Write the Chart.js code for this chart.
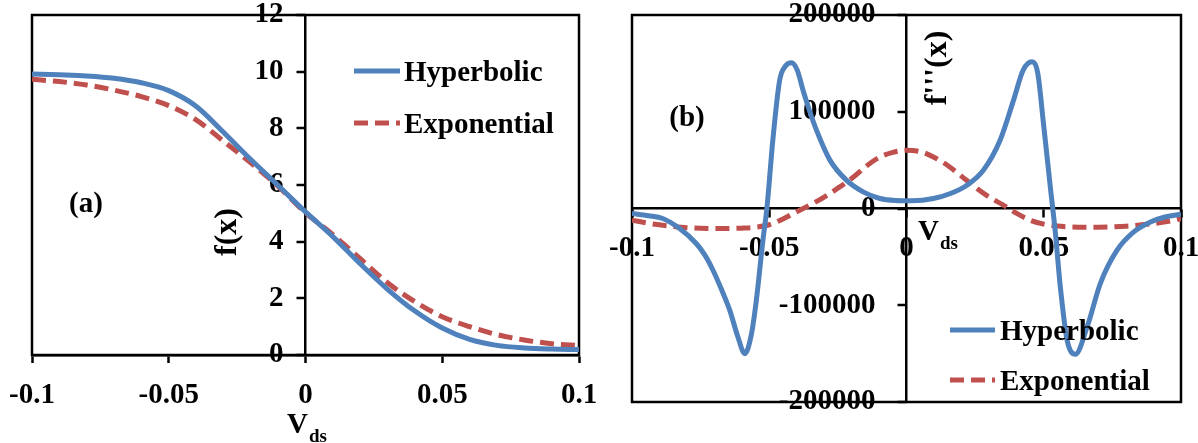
<!DOCTYPE html>
<html>
<head>
<meta charset="utf-8">
<title>f(x) and f'''(x) versus Vds</title>
<script src="https://cdn.jsdelivr.net/npm/chart.js@4.4.1/dist/chart.umd.min.js"></script>
<style>
  body { margin: 0; background: #fff; }
  #wrap { position: relative; width: 1198px; height: 443px; overflow: hidden; }
  canvas { position: absolute; top: 0; }
  #chartA { left: 0; }
  #chartB { left: 600px; }
</style>
</head>
<body>
<div id="wrap">
  <canvas id="chartA" width="600" height="443"></canvas>
  <canvas id="chartB" width="598" height="443"></canvas>
</div>
<script>
// ---- data ----
var seriesNames = ['Hyperbolic', 'Exponential'];

// panel (a): f(x) against Vds
var vdsA = [-0.1, -0.09, -0.08, -0.07, -0.06, -0.05, -0.04, -0.03, -0.02, -0.01, 0,
            0.01, 0.02, 0.03, 0.04, 0.05, 0.06, 0.07, 0.08, 0.09, 0.1];
var hypA = [9.92, 9.89, 9.85, 9.77, 9.61, 9.33, 8.78, 7.86, 6.90, 5.98, 5.05,
            4.18, 3.22, 2.32, 1.55, 0.95, 0.55, 0.34, 0.25, 0.21, 0.19];
var expA = [9.73, 9.65, 9.53, 9.35, 9.12, 8.80, 8.30, 7.55, 6.78, 5.95, 5.02,
            4.25, 3.40, 2.55, 1.88, 1.35, 1.00, 0.72, 0.53, 0.40, 0.33];

// panel (b): f'''(x) against Vds
var vdsHypB = [-0.1, -0.094, -0.0888, -0.083, -0.0766, -0.0735, -0.0705, -0.0675, -0.0644, -0.0615,
               -0.0589, -0.0565, -0.0547, -0.0523, -0.0508, -0.0487, -0.0462, -0.044, -0.0419, -0.0398,
               -0.0377, -0.0352, -0.0328, -0.0279, -0.0219, -0.0158, -0.0097, -0.004, 0.002, 0.0098,
               0.016, 0.022, 0.028, 0.0341, 0.039, 0.0425, 0.0457, 0.0478, 0.0499, 0.0524,
               0.0542, 0.056, 0.0585, 0.0615, 0.0658, 0.0706, 0.0767, 0.0828, 0.0889, 0.0945, 0.1];
var hypB = [-5200, -7500, -10300, -20000, -36200, -48000, -63800, -83000, -105000, -132000,
            -150000, -130000, -94800, -32800, 1700, 70600, 132700, 147500, 150600, 143000,
            122300, 100000, 81000, 50000, 29300, 17200, 10300, 8300, 8000, 10300,
            15500, 24100, 39600, 70600, 112000, 143000, 151600, 140000, 87900, 22000,
            -24000, -80000, -136000, -150700, -122400, -77600, -43100, -24200, -13900, -8500, -5900];

var vdsExpB = [-0.1, -0.095, -0.09, -0.085, -0.08, -0.075, -0.07, -0.065, -0.06, -0.055, -0.05,
               -0.045, -0.04, -0.035, -0.03, -0.025, -0.02, -0.015, -0.01, -0.005, 0,
               0.005, 0.01, 0.015, 0.02, 0.025, 0.03, 0.035, 0.04, 0.045, 0.05,
               0.055, 0.06, 0.065, 0.07, 0.075, 0.08, 0.085, 0.09, 0.095, 0.1];
var expB = [-12000, -14800, -16900, -18500, -19800, -20500, -20800, -20700, -20300, -19300, -16800,
            -10800, -3300, 3800, 11800, 21000, 31000, 43000, 52800, 58000, 60300,
            58800, 53000, 44500, 33500, 22000, 12000, 4000, -4800, -12000, -16200,
            -18200, -19000, -19300, -19300, -19000, -18300, -17000, -15500, -13500, -10500];

// tick values and labels
var xTicks = [-0.1, -0.05, 0, 0.05, 0.1];
var xTickLabels = ['-0.1', '-0.05', '0', '0.05', '0.1'];
var yTicksA = [0, 2, 4, 6, 8, 10, 12];
var yTickLabelsA = ['0', '2', '4', '6', '8', '10', '12'];
var yTicksB = [-200000, -100000, 0, 100000, 200000];
var yTickLabelsB = ['-200000', '-100000', '0', '100000', '200000'];

var BLUE = '#4f81bd', RED = '#c0504d';
var FONT = '"Liberation Serif", "Times New Roman", serif';
var FS = 29;

function toPoints(xs, ys) {
  return xs.map(function(x, i) { return { x: x, y: ys[i] }; });
}

function makeDatasets(hx, hy, ex, ey) {
  return [{
    label: seriesNames[0],
    data: toPoints(hx, hy),
    borderColor: BLUE,
    borderWidth: 5,
    pointRadius: 0,
    cubicInterpolationMode: 'monotone'
  }, {
    label: seriesNames[1],
    data: toPoints(ex, ey),
    borderColor: RED,
    borderWidth: 5,
    borderDash: [14, 7],
    pointRadius: 0,
    cubicInterpolationMode: 'monotone'
  }];
}

function axis(values, labels, extra) {
  var cfg = {
    type: 'linear',
    min: values[0],
    max: values[values.length - 1],
    afterBuildTicks: function(scale) {
      scale.ticks = values.map(function(v) { return { value: v }; });
    },
    afterFit: function(scale) {
      scale.paddingTop = 0; scale.paddingBottom = 0;
      scale.paddingLeft = 0; scale.paddingRight = 0;
      if (extra.height) scale.height = extra.height;
    },
    ticks: {
      autoSkip: false,
      maxRotation: 0,
      padding: extra.pad,
      color: '#000',
      font: { family: FONT, size: FS, weight: 'bold' },
      callback: function(v, i) { return labels[i]; }
    },
    grid: {
      drawOnChartArea: false,
      drawTicks: extra.drawTicks !== false,
      tickLength: 8,
      tickWidth: 2.5,
      color: '#000'
    },
    border: { display: true, color: '#000', width: 2.5 }
  };
  if (extra.position) cfg.position = extra.position;
  return cfg;
}

function makeDecor(cfg) {
  return {
    id: 'decor',
    beforeDraw: function(chart) {
      // centred y axis: move its labels off the axis line
      chart.scales.y.getLabelItems().forEach(function(it) {
        if (!it.shifted) {
          it.options.translation[0] -= cfg.yLabelShift;
          it.shifted = true;
        }
      });
    },
    beforeDatasetsDraw: function(chart) {
      var a = chart.chartArea, ctx = chart.ctx;
      var ys = chart.scales.y, x0 = chart.scales.x.getPixelForValue(0);
      ctx.save();
      ctx.strokeStyle = '#000';
      ctx.lineWidth = 2.5;
      ctx.strokeRect(a.left, a.top, a.right - a.left, a.bottom - a.top);
      // tick marks on the centred y axis, pointing left
      ctx.beginPath();
      ys.ticks.forEach(function(t) {
        var py = Math.round(ys.getPixelForValue(t.value));
        ctx.moveTo(x0 - 9, py);
        ctx.lineTo(x0, py);
      });
      ctx.stroke();
      ctx.restore();
    },
    afterDraw: function(chart) {
      var ctx = chart.ctx;
      ctx.save();
      ctx.fillStyle = '#000';

      // panel tag
      ctx.font = 'bold ' + FS + 'px ' + FONT;
      ctx.textAlign = 'center';
      ctx.textBaseline = 'alphabetic';
      ctx.fillText(cfg.tag, cfg.tagX, cfg.tagY);

      // vertical title
      ctx.save();
      ctx.translate(cfg.yTitleX, cfg.yTitleY);
      ctx.rotate(-Math.PI / 2);
      ctx.font = 'bold 32px ' + FONT;
      ctx.textBaseline = 'middle';
      ctx.fillText(cfg.yTitle, 0, 0);
      ctx.restore();

      // V_ds with subscript
      ctx.textAlign = 'left';
      ctx.font = 'bold ' + FS + 'px ' + FONT;
      ctx.fillText('V', cfg.vdsX, cfg.vdsY);
      var w = ctx.measureText('V').width;
      ctx.font = 'bold 19px ' + FONT;
      ctx.fillText('ds', cfg.vdsX + w + 1, cfg.vdsY + 9);

      // legend
      chart.data.datasets.forEach(function(ds, i) {
        var y = cfg.legendY[i];
        ctx.beginPath();
        ctx.strokeStyle = ds.borderColor;
        ctx.lineWidth = ds.borderWidth;
        ctx.setLineDash(ds.borderDash || []);
        ctx.moveTo(cfg.legendX1, y);
        ctx.lineTo(cfg.legendX2, y);
        ctx.stroke();
        ctx.setLineDash([]);
        ctx.font = 'bold ' + FS + 'px ' + FONT;
        ctx.textBaseline = 'middle';
        ctx.fillText(ds.label, cfg.legendTextX, y + 3);
      });
      ctx.restore();
    }
  };
}

function baseOptions(padding, xAxis, yAxis) {
  return {
    responsive: false,
    animation: false,
    events: [],
    devicePixelRatio: 1,
    layout: { padding: padding },
    plugins: { legend: { display: false }, tooltip: { enabled: false } },
    scales: { x: xAxis, y: yAxis }
  };
}

// panel (a)
new Chart(document.getElementById('chartA'), {
  type: 'line',
  data: { datasets: makeDatasets(vdsA, hypA, vdsA, expA) },
  options: baseOptions(
    { left: 32, right: 21, top: 15, bottom: 0 },
    axis(xTicks, xTickLabels, { pad: 15, height: 88, position: 'bottom' }),
    axis(yTicksA, yTickLabelsA, { pad: 14, position: { x: 0 }, drawTicks: false })
  ),
  plugins: [makeDecor({
    yLabelShift: 22,
    tag: '(a)', tagX: 86, tagY: 212,
    yTitle: 'f(x)', yTitleX: 228, yTitleY: 232,
    vdsX: 287, vdsY: 433,
    legendY: [71, 123], legendX1: 354, legendX2: 400, legendTextX: 404
  })]
});

// panel (b)
new Chart(document.getElementById('chartB'), {
  type: 'line',
  data: { datasets: makeDatasets(vdsHypB, hypB, vdsExpB, expB) },
  options: baseOptions(
    { left: 32, right: 17, top: 15, bottom: 41 },
    axis(xTicks, xTickLabels, { pad: 15, position: { y: 0 } }),
    axis(yTicksB, yTickLabelsB, { pad: 22, position: { x: 0 }, drawTicks: false })
  ),
  plugins: [makeDecor({
    yLabelShift: 31,
    tag: '(b)', tagX: 87, tagY: 126,
    yTitle: "f'''(x)", yTitleX: 338, yTitleY: 68,
    vdsX: 318, vdsY: 240,
    legendY: [330, 380], legendX1: 350, legendX2: 395, legendTextX: 400
  })]
});
</script>
</body>
</html>
